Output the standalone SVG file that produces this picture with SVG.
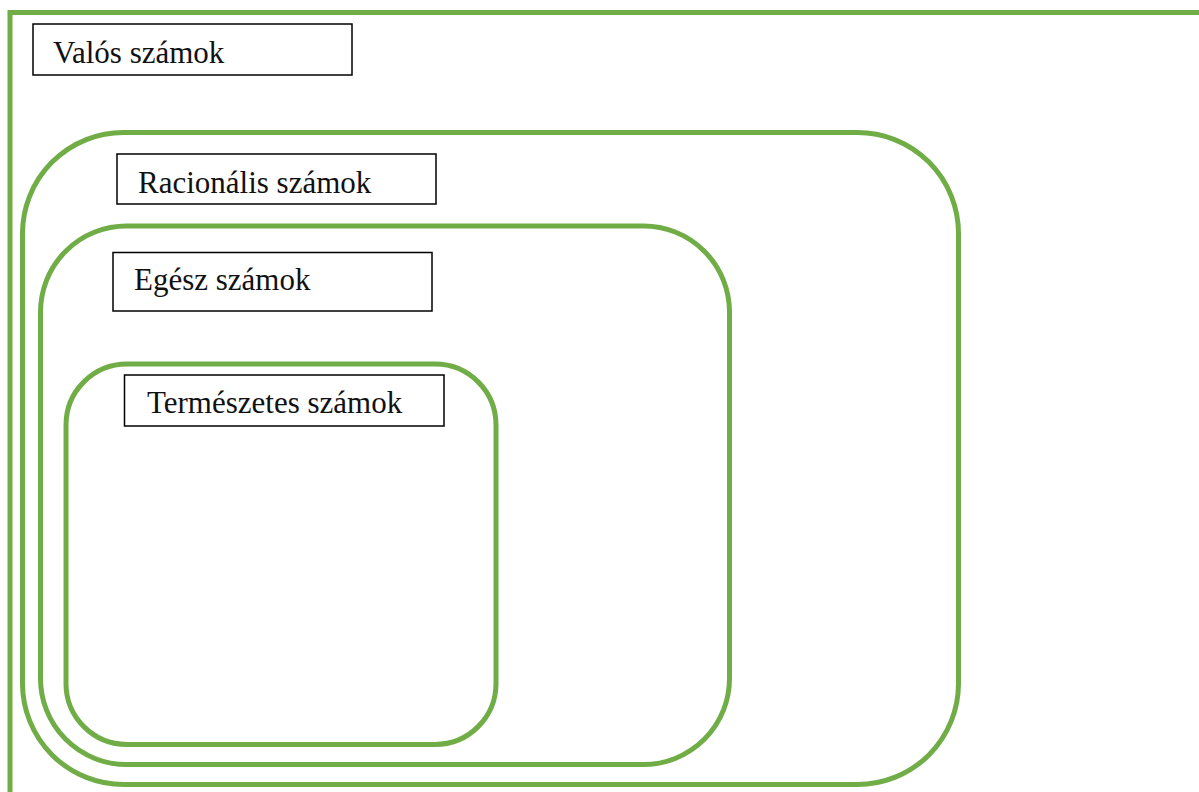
<svg xmlns="http://www.w3.org/2000/svg" width="1199" height="792" viewBox="0 0 1199 792">
<style>
.set{fill:none;stroke:#70AD47;stroke-width:5}
.lbl{fill:#fff;stroke:#000;stroke-width:1.5}
.t{font-family:"Liberation Serif","Times New Roman",serif;font-size:31px;fill:#111}
</style>
<rect width="1199" height="792" fill="#fff"/>
<g id="valos">
<rect class="set" x="10" y="12.5" width="1300" height="900"/>
<rect class="lbl" x="33" y="24" width="319" height="51"/>
<text class="t" x="53" y="63">Valós számok</text>
</g>
<g id="racionalis">
<rect class="set" x="22.5" y="132.5" width="936" height="652" rx="101" ry="101"/>
<rect class="lbl" x="117" y="154" width="319" height="50"/>
<text class="t" x="138" y="193">Racionális számok</text>
</g>
<g id="egesz">
<rect class="set" x="40.5" y="226" width="689" height="538.5" rx="86" ry="86"/>
<rect class="lbl" x="113" y="252.5" width="319" height="58.5"/>
<text class="t" x="134" y="290">Egész számok</text>
</g>
<g id="termeszetes">
<rect class="set" x="66" y="364" width="430" height="380.5" rx="61" ry="61"/>
<rect class="lbl" x="124.5" y="375" width="319.5" height="51"/>
<text class="t" x="147" y="413">Természetes számok</text>
</g>
<g id="connectors"/>
</svg>
